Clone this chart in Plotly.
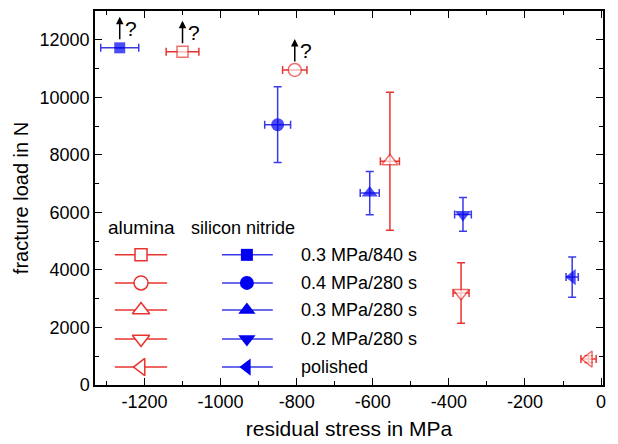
import plotly.graph_objects as go

# ---- data ----
symbols_open = ['square', 'circle', 'triangle-up', 'triangle-down', 'triangle-left']
labels = ['0.3 MPa/840 s', '0.4 MPa/280 s', '0.3 MPa/280 s', '0.2 MPa/280 s', 'polished']

alu_x = [-1100, -805, -555, -368, -33]
alu_y = [11580, 10950, 7780, 3200, 900]
alu_xerr = [43, 32, 25, 21, 20]
alu_yerr = [0, 0, 2400, 1050, 120]

sin_x = [-1265, -850, -608, -363, -76]
sin_y = [11720, 9050, 6670, 5930, 3750]
sin_xerr = [50, 34, 25, 22, 16]
sin_yerr = [0, 1320, 750, 590, 700]

x_tickvals = [-1200, -1000, -800, -600, -400, -200, 0]
x_ticktext = ['-1200', '-1000', '-800', '-600', '-400', '-200', '0']
y_tickvals = [0, 2000, 4000, 6000, 8000, 10000, 12000]
y_ticktext = ['0', '2000', '4000', '6000', '8000', '10000', '12000']

# points that are lower bounds (arrow + "?")
bound_x = [sin_x[0], alu_x[0], alu_x[1]]
bound_y = [sin_y[0], alu_y[0], alu_y[1]]

RED = '#e8342e'
BLUE = '#0000f0'
BLUE_ERR = '#3a3ae6'
FONT = 'Liberation Sans, Arial, sans-serif'
sizes = [11, 13, 14, 14, 14]

fig = go.Figure()

fig.add_trace(go.Scatter(
    x=alu_x, y=alu_y, mode='markers',
    marker=dict(symbol=symbols_open, size=sizes, color='white',
                line=dict(color=RED, width=1.5)),
    error_x=dict(type='data', array=alu_xerr, color=RED, thickness=1.5, width=4),
    error_y=dict(type='data', array=alu_yerr, color=RED, thickness=1.5, width=4),
    showlegend=False))

fig.add_trace(go.Scatter(
    x=sin_x, y=sin_y, mode='markers',
    marker=dict(symbol=symbols_open, size=sizes, color=BLUE,
                line=dict(color=BLUE, width=0)),
    error_x=dict(type='data', array=sin_xerr, color=BLUE_ERR, thickness=1.5, width=4),
    error_y=dict(type='data', array=sin_yerr, color=BLUE_ERR, thickness=1.5, width=4),
    showlegend=False))

# ---- hand-made legend on an overlay axis in [0,1] ----
rows = [0.348, 0.273, 0.2005, 0.123, 0.048]
red_l, red_c, red_r = 0.039, 0.0906, 0.142
blu_l, blu_c, blu_r = 0.25, 0.299, 0.35
for i, r in enumerate(rows):
    fig.add_trace(go.Scatter(x=[red_l, red_r], y=[r, r], mode='lines',
                             line=dict(color=RED, width=1.5), xaxis='x2', yaxis='y2',
                             showlegend=False, hoverinfo='skip'))
    fig.add_trace(go.Scatter(x=[blu_l, blu_r], y=[r, r], mode='lines',
                             line=dict(color=BLUE_ERR, width=1.5), xaxis='x2', yaxis='y2',
                             showlegend=False, hoverinfo='skip'))
    fig.add_trace(go.Scatter(x=[red_c], y=[r], mode='markers',
                             marker=dict(symbol=symbols_open[i], size=sizes[i] + 1, color='white',
                                         line=dict(color=RED, width=1.5)),
                             xaxis='x2', yaxis='y2', showlegend=False, hoverinfo='skip'))
    fig.add_trace(go.Scatter(x=[blu_c], y=[r], mode='markers',
                             marker=dict(symbol=symbols_open[i], size=sizes[i] + 1, color=BLUE),
                             xaxis='x2', yaxis='y2', showlegend=False, hoverinfo='skip'))

annotations = []
annotations.append(dict(x=red_c, y=0.42, xref='x2', yref='y2', text='alumina',
                        showarrow=False, font=dict(size=19, color='black', family=FONT)))
annotations.append(dict(x=blu_c - 0.008, y=0.42, xref='x2', yref='y2', text='silicon nitride',
                        showarrow=False, font=dict(size=18, color='black', family=FONT)))
for i, r in enumerate(rows):
    annotations.append(dict(x=0.402, y=r, xref='x2', yref='y2', text=labels[i],
                            xanchor='left', showarrow=False,
                            font=dict(size=18, color='black', family=FONT)))

for bx, by in zip(bound_x, bound_y):
    annotations.append(dict(x=bx, y=by, xref='x', yref='y', text='', showarrow=True,
                            ax=0, ay=24, yshift=31, arrowhead=2, arrowsize=1,
                            arrowwidth=1.5, arrowcolor='black'))
    annotations.append(dict(x=bx, y=by, xref='x', yref='y', text='?', showarrow=False,
                            xshift=11, yshift=19,
                            font=dict(size=21, color='black', family=FONT)))

axis_common = dict(showgrid=False, zeroline=False, showline=True, linecolor='black',
                   linewidth=1.5, mirror='ticks', ticks='inside', ticklen=7, tickwidth=1.2,
                   tickcolor='black', tickmode='array', automargin=False,
                   tickfont=dict(size=18, color='black', family=FONT))

fig.update_layout(
    width=618, height=444,
    margin=dict(l=95, r=15, t=11, b=59),
    paper_bgcolor='white', plot_bgcolor='white',
    font=dict(family=FONT, color='black'),
    xaxis=dict(range=[-1330, 5], tickvals=x_tickvals, ticktext=x_ticktext,
               minor=dict(dtick=100, tick0=0, ticks='inside', ticklen=4, tickcolor='black'),
               title=dict(text='residual stress in MPa', font=dict(size=21), standoff=10),
               **axis_common),
    yaxis=dict(range=[0, 13000], tickvals=y_tickvals, ticktext=y_ticktext,
               minor=dict(dtick=1000, tick0=0, ticks='inside', ticklen=4, tickcolor='black'),
               title=dict(text='fracture load in N', font=dict(size=20), standoff=6),
               **axis_common),
    xaxis2=dict(overlaying='x', range=[0, 1], visible=False, anchor='y2'),
    yaxis2=dict(overlaying='y', range=[0, 1], visible=False, anchor='x2'),
    annotations=annotations,
)

fig.write_html('out.html')
